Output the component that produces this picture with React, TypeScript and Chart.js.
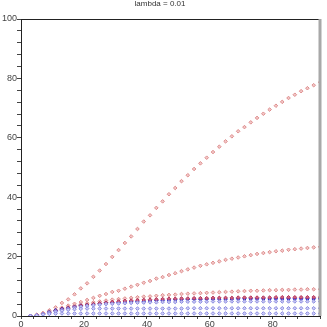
import React, { useEffect, useRef } from "react";
import { Chart, registerables } from "chart.js";

Chart.register(...registerables);

const TITLE = "lambda = 0.01";
const xValues = [3,5,7,9,11,13,15,17,19,21,23,25,27,29,31,33,35,37,39,41,43,45,47,49,51,53,55,57,59,61,63,65,67,69,71,73,75,77,79,81,83,85,87,89,91,93,95];

const redA = [0,0.4,1.0,1.9,2.9,4.4,5.6,7.3,9.3,11.0,13.2,15.3,17.5,19.9,22.2,24.6,26.8,29.3,31.8,33.9,36.4,38.6,41.0,43.1,45.4,47.4,49.5,51.4,53.3,55.2,57.0,58.8,60.5,62.2,63.6,65.2,66.7,68.1,69.5,70.8,72.1,73.4,74.5,75.7,76.7,77.7,78.7];
const redB = [0,0.4,0.9,1.4,2.0,2.8,3.5,4.1,4.7,5.4,6.1,6.8,7.4,8.1,8.5,9.2,9.9,10.5,11.2,11.8,12.6,13.1,13.8,14.4,15.1,15.7,16.3,16.9,17.4,17.9,18.4,18.9,19.3,19.7,20.1,20.5,20.9,21.2,21.5,21.8,22.0,22.3,22.5,22.7,22.9,23.1,23.3];
const redC = [0,0.3,0.8,1.3,1.9,2.5,3.0,3.5,3.9,4.3,4.6,4.9,5.2,5.5,5.7,5.9,6.1,6.3,6.5,6.6,6.8,7.0,7.1,7.2,7.4,7.5,7.6,7.7,7.8,7.9,8.0,8.1,8.2,8.3,8.4,8.5,8.5,8.6,8.7,8.7,8.8,8.8,8.9,8.9,9.0,9.0,9.0];
const redD = [0,0.3,0.7,1.2,1.7,2.2,2.6,3.0,3.4,3.7,4.0,4.3,4.5,4.7,4.9,5.1,5.2,5.3,5.4,5.5,5.6,5.7,5.8,5.8,5.9,5.9,6.0,6.0,6.0,6.1,6.1,6.1,6.1,6.2,6.2,6.2,6.2,6.2,6.2,6.3,6.3,6.3,6.3,6.3,6.3,6.3,6.3];
const blueA = [0,0.2,0.7,1.35,1.9,2.4,2.7,3.1,3.5,3.7,3.9,4.1,4.4,4.5,4.6,4.7,4.8,4.9,5.0,5.05,5.2,5.3,5.4,5.5,5.5,5.6,5.6,5.6,5.7,5.7,5.7,5.7,5.7,5.8,5.8,5.8,5.8,5.8,5.8,5.8,5.8,5.8,5.8,5.8,5.8,5.8,5.8];
const blueB = [0,0.2,0.6,1.1,1.6,2.0,2.4,2.8,3.1,3.4,3.6,3.8,4.0,4.1,4.2,4.3,4.4,4.5,4.5,4.6,4.6,4.7,4.7,4.7,4.8,4.8,4.8,4.8,4.8,4.9,4.9,4.9,4.9,4.9,4.9,4.9,4.9,4.9,4.9,4.9,4.9,4.9,4.9,4.9,4.9,4.9,4.9];
const blueC = [0,0.2,0.6,1.0,1.4,1.8,2.1,2.3,2.4,2.5,2.5,2.5,2.5,2.5,2.5,2.5,2.5,2.5,2.5,2.5,2.5,2.5,2.5,2.5,2.5,2.6,2.6,2.6,2.6,2.6,2.6,2.6,2.6,2.6,2.6,2.6,2.6,2.6,2.6,2.6,2.6,2.6,2.6,2.6,2.6,2.6,2.6];
const blueD = [0,0.2,0.5,0.7,0.8,0.85,0.85,0.85,0.85,0.85,0.85,0.85,0.85,0.85,0.85,0.85,0.85,0.85,0.85,0.85,0.85,0.85,0.85,0.85,0.85,0.85,0.85,0.85,0.85,0.85,0.85,0.85,0.85,0.85,0.85,0.85,0.85,0.85,0.85,0.85,0.85,0.85,0.85,0.85,0.85,0.85,0.85];

const xTickLabels = [0, 20, 40, 60, 80];
const yTickLabels = [0, 20, 40, 60, 80, 100];

const FONT = "'Liberation Sans', Arial, sans-serif";

function series(values: number[]) {
  return values.map((v, i) => ({ x: xValues[i], y: v }));
}

const frame = {
  id: "frame",
  afterDraw(chart: any) {
    const { ctx, chartArea } = chart;
    const { left, right, top, bottom } = chartArea;
    ctx.save();
    ctx.strokeStyle = "#222";
    ctx.lineWidth = 1;
    ctx.beginPath();
    ctx.moveTo(left, top + 0.5);
    ctx.lineTo(right, top + 0.5);
    ctx.stroke();
    ctx.strokeStyle = "#a8a8a8";
    ctx.lineWidth = 3;
    ctx.beginPath();
    ctx.moveTo(right, top);
    ctx.lineTo(right, bottom);
    ctx.stroke();
    ctx.fillStyle = "#333";
    ctx.font = `8px ${FONT}`;
    ctx.textAlign = "center";
    ctx.textBaseline = "middle";
    ctx.fillText(TITLE, 160, 4);
    ctx.restore();
  },
};

export default function App() {
  const ref = useRef<HTMLCanvasElement>(null);
  useEffect(() => {
    const mk = (label: string, data: number[], border: string, bg: string, r = 1.8) => ({
      label,
      data: series(data),
      showLine: false,
      pointStyle: "rectRot",
      pointRadius: r,
      borderWidth: 1,
      pointBorderColor: border,
      pointBackgroundColor: bg,
      borderColor: border,
      backgroundColor: bg,
    });
    const chart = new Chart(ref.current!, {
      type: "scatter",
      data: {
        datasets: [
          mk("blueD", blueD, "rgb(135,135,225)", "rgb(205,205,245)"),
          mk("blueC", blueC, "rgb(135,135,225)", "rgb(205,205,245)"),
          mk("blueB", blueB, "rgb(140,140,225)", "rgb(195,195,240)"),
          mk("redD", redD, "rgb(180,50,90)", "rgb(205,100,130)"),
          mk("blueA", blueA, "rgb(40,40,200)", "rgb(70,70,215)"),
          mk("redC", redC, "rgb(222,140,140)", "rgb(242,200,200)"),
          mk("redB", redB, "rgb(222,140,140)", "rgb(242,200,200)"),
          mk("redA", redA, "rgb(222,140,140)", "rgb(242,200,200)"),
        ] as any,
      },
      options: {
        animation: false,
        responsive: false,
        layout: { padding: { top: 19, right: 7, left: 0, bottom: 0 } },
        plugins: { legend: { display: false }, title: { display: false }, tooltip: { enabled: false } },
        scales: {
          x: {
            type: "linear",
            min: 0,
            max: 95,
            afterFit: (s: any) => { s.height = 11; },
            ticks: {
              stepSize: 4,
              autoSkip: false,
              maxRotation: 0,
              padding: 0,
              color: "#444",
              font: { size: 9, family: FONT },
              callback: (v: any) => (xTickLabels.includes(Number(v)) ? String(v) : ""),
            },
            grid: { drawOnChartArea: false, drawTicks: true, tickLength: 3, color: "#444" },
            border: { display: true, color: "#222" },
          },
          y: {
            type: "linear",
            min: 0,
            max: 100,
            afterFit: (s: any) => { s.width = 21; },
            ticks: {
              stepSize: 4,
              autoSkip: false,
              padding: 0,
              color: "#444",
              font: { size: 9, family: FONT },
              callback: (v: any) => (yTickLabels.includes(Number(v)) ? String(v) : ""),
            },
            grid: { drawOnChartArea: false, drawTicks: true, tickLength: 4, color: "#444" },
            border: { display: true, color: "#222" },
          },
        },
      },
      plugins: [frame],
    } as any);
    return () => chart.destroy();
  }, []);
  return (
    <div style={{ position: "fixed", left: 0, top: 0, width: 327, height: 327, background: "#fff" }}>
      <canvas ref={ref} width={327} height={327} style={{ width: 327, height: 327 }} />
    </div>
  );
}
